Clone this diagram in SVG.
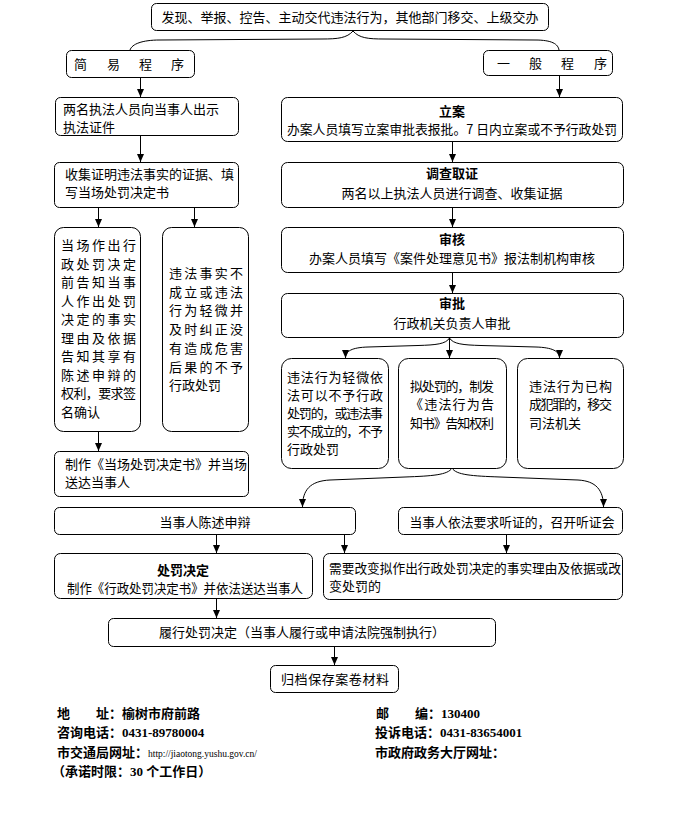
<svg xmlns="http://www.w3.org/2000/svg" width="674" height="813" viewBox="0 0 674 813">
<defs>
<marker id="ah" markerWidth="8" markerHeight="7" refX="8" refY="3.5" orient="auto" markerUnits="userSpaceOnUse">
<path d="M0,0 L8,3.5 L0,7 z" fill="#000"/>
</marker>
<style>
.box{fill:#fff;stroke:#000;stroke-width:1}
.t{font-family:"Noto Sans CJK SC","Noto Sans",sans-serif;font-size:13px;fill:#000}
.c{text-anchor:middle}
.b{font-weight:bold}
.ln{fill:none;stroke:#000;stroke-width:1;marker-end:url(#ah)}
.f{font-family:"Liberation Serif","Noto Sans CJK SC",serif;font-size:13px;font-weight:bold;fill:#000}
.u{font-family:"Liberation Serif",serif;font-size:9.5px;font-weight:normal;fill:#000}
</style>
</defs>
<rect width="674" height="813" fill="#fff"/>

<g id="connectors">
<path class="ln" d="M353,31 C347,38 338,39 322,39 L160,40 C142,40 132,44 130,50" style="marker-end:none"/>
<path class="ln" d="M353,31 C359,38 368,39 384,39 L535,40 C552,40 558,44 559,50" style="marker-end:none"/>
<path class="ln" d="M140.5,78 L140.5,97"/>
<path class="ln" d="M559.5,76 L559.5,97"/>
<path class="ln" d="M140.5,136 L140.5,162"/>
<path class="ln" d="M98.5,208 L98.5,227"/>
<path class="ln" d="M194.5,208 L194.5,227"/>
<path class="ln" d="M98.5,432 L98.5,451"/>
<path class="ln" d="M452.5,142 L452.5,162"/>
<path class="ln" d="M452.5,208 L452.5,227"/>
<path class="ln" d="M452.5,273 L452.5,293"/>
<path class="ln" d="M449.5,338 L449.5,358"/>
<path class="ln" d="M449.5,338 C446,344 436,345 418,345.5 L368,347 C352,347.5 345.5,351 345.5,358"/>
<path class="ln" d="M449.5,338 C453,344 463,345 481,345.5 L536,347 C552,347.5 559.5,351 559.5,358"/>
<path class="ln" d="M452,468 C448,475 432,476 405,477 L330,480 C310,481 302.5,490 302.5,507"/>
<path class="ln" d="M452,468 C456,475 472,476 500,477 L578,480 C596,481 603.5,490 603.5,507"/>
<path class="ln" d="M216.5,534 L216.5,553"/>
<path class="ln" d="M344.5,534 L344.5,553"/>
<path class="ln" d="M506.5,535 L506.5,553"/>
<path class="ln" d="M216.5,599 L216.5,618"/>
<path class="ln" d="M334.5,647 L334.5,665"/>
</g>

<g id="n-start">
<rect class="box" x="151.5" y="3.5" width="397" height="27" rx="5"/>
<text class="t c" x="350" y="22">发现、举报、控告、主动交代违法行为，其他部门移交、上级交办</text>
</g>

<g id="n-simple">
<rect class="box" x="66.5" y="50.5" width="128" height="27" rx="5"/>
<text class="t" x="74 107 139 171" y="69">简易程序</text>
</g>

<g id="n-general">
<rect class="box" x="483.5" y="50.5" width="129" height="25" rx="5"/>
<text class="t" x="497 529 561 594" y="68">一般程序</text>
</g>

<g id="n-s1">
<rect class="box" x="55.5" y="97.5" width="183" height="38" rx="5"/>
<text class="t" x="63" y="114">两名执法人员向当事人出示</text>
<text class="t" x="63" y="132">执法证件</text>
</g>

<g id="n-s2">
<rect class="box" x="54.5" y="162.5" width="184" height="45" rx="5"/>
<text class="t" x="65" y="179">收集证明违法事实的证据、填</text>
<text class="t" x="65" y="197">写当场处罚决定书</text>
</g>

<g id="n-s3a">
<rect class="box" x="54.5" y="227.5" width="86" height="204" rx="9"/>
<text class="t" x="61" y="250" textLength="75" lengthAdjust="spacing">当场作出行</text>
<text class="t" x="61" y="268.5" textLength="75" lengthAdjust="spacing">政处罚决定</text>
<text class="t" x="61" y="287" textLength="75" lengthAdjust="spacing">前告知当事</text>
<text class="t" x="61" y="305.5" textLength="75" lengthAdjust="spacing">人作出处罚</text>
<text class="t" x="61" y="324" textLength="75" lengthAdjust="spacing">决定的事实</text>
<text class="t" x="61" y="342.5" textLength="75" lengthAdjust="spacing">理由及依据</text>
<text class="t" x="61" y="361" textLength="75" lengthAdjust="spacing">告知其享有</text>
<text class="t" x="61" y="379.5" textLength="75" lengthAdjust="spacing">陈述申辩的</text>
<text class="t" x="61" y="398" textLength="75" lengthAdjust="spacing">权利，要求签</text>
<text class="t" x="61" y="416.5">名确认</text>
</g>

<g id="n-s3b">
<rect class="box" x="162.5" y="227.5" width="86" height="204" rx="9"/>
<text class="t" x="169" y="278" textLength="74" lengthAdjust="spacing">违法事实不</text>
<text class="t" x="169" y="296.7" textLength="74" lengthAdjust="spacing">成立或违法</text>
<text class="t" x="169" y="315.4" textLength="74" lengthAdjust="spacing">行为轻微并</text>
<text class="t" x="169" y="334.1" textLength="74" lengthAdjust="spacing">及时纠正没</text>
<text class="t" x="169" y="352.8" textLength="74" lengthAdjust="spacing">有造成危害</text>
<text class="t" x="169" y="371.5" textLength="74" lengthAdjust="spacing">后果的不予</text>
<text class="t" x="169" y="390.2">行政处罚</text>
</g>

<g id="n-s4">
<rect class="box" x="54.5" y="451.5" width="194" height="45" rx="5"/>
<text class="t" x="65" y="469">制作《当场处罚决定书》并当场</text>
<text class="t" x="65" y="487">送达当事人</text>
</g>

<g id="n-lian">
<rect class="box" x="281.5" y="97.5" width="341" height="44" rx="6"/>
<text class="t c b" x="452" y="116">立案</text>
<text class="t" x="287" y="134" textLength="330" lengthAdjust="spacingAndGlyphs">办案人员填写立案审批表报批。7 日内立案或不予行政处罚</text>
</g>

<g id="n-diaocha">
<rect class="box" x="281.5" y="162.5" width="342" height="45" rx="6"/>
<text class="t c b" x="452" y="178">调查取证</text>
<text class="t c" x="452" y="198">两名以上执法人员进行调查、收集证据</text>
</g>

<g id="n-shenhe">
<rect class="box" x="281.5" y="227.5" width="342" height="45" rx="6"/>
<text class="t c b" x="452" y="244">审核</text>
<text class="t c" x="452" y="263">办案人员填写《案件处理意见书》报法制机构审核</text>
</g>

<g id="n-shenpi">
<rect class="box" x="281.5" y="293.5" width="342" height="44" rx="6"/>
<text class="t c b" x="452" y="308">审批</text>
<text class="t c" x="452" y="328">行政机关负责人审批</text>
</g>

<g id="n-r1">
<rect class="box" x="281.5" y="358.5" width="107" height="110" rx="10"/>
<text class="t" x="287" y="382" textLength="96" lengthAdjust="spacing">违法行为轻微依</text>
<text class="t" x="287" y="400" textLength="96" lengthAdjust="spacing">法可以不予行政</text>
<text class="t" x="287" y="418" textLength="96" lengthAdjust="spacing">处罚的，或违法事</text>
<text class="t" x="287" y="436" textLength="96" lengthAdjust="spacing">实不成立的，不予</text>
<text class="t" x="287" y="454">行政处罚</text>
</g>

<g id="n-r2">
<rect class="box" x="398.5" y="358.5" width="108" height="110" rx="10"/>
<text class="t" x="410" y="391" textLength="84" lengthAdjust="spacing">拟处罚的，制发</text>
<text class="t" x="410" y="409" textLength="84" lengthAdjust="spacing">《违法行为告</text>
<text class="t" x="410" y="428" textLength="84" lengthAdjust="spacing">知书》告知权利</text>
</g>

<g id="n-r3">
<rect class="box" x="517.5" y="358.5" width="106" height="110" rx="10"/>
<text class="t" x="529" y="391" textLength="83" lengthAdjust="spacing">违法行为已构</text>
<text class="t" x="529" y="409" textLength="83" lengthAdjust="spacing">成犯罪的，移交</text>
<text class="t" x="529" y="428">司法机关</text>
</g>

<g id="n-chenshu">
<rect class="box" x="54.5" y="507.5" width="301" height="27" rx="5"/>
<text class="t c" x="205" y="527">当事人陈述申辩</text>
</g>

<g id="n-tingzheng">
<rect class="box" x="398.5" y="507.5" width="224" height="27" rx="5"/>
<text class="t c" x="512" y="527" textLength="205" lengthAdjust="spacingAndGlyphs">当事人依法要求听证的，召开听证会</text>
</g>

<g id="n-jueding">
<rect class="box" x="54.5" y="553.5" width="258" height="45" rx="6"/>
<text class="t c b" x="183" y="575">处罚决定</text>
<text class="t" x="67" y="593" textLength="236" lengthAdjust="spacingAndGlyphs">制作《行政处罚决定书》并依法送达当事人</text>
</g>

<g id="n-gaibian">
<rect class="box" x="323.5" y="553.5" width="299" height="46" rx="6"/>
<text class="t" x="329" y="573" textLength="292" lengthAdjust="spacingAndGlyphs">需要改变拟作出行政处罚决定的事实理由及依据或改</text>
<text class="t" x="329" y="591">变处罚的</text>
</g>

<g id="n-lvxing">
<rect class="box" x="108.5" y="618.5" width="387" height="28" rx="5"/>
<text class="t c" x="302" y="637">履行处罚决定（当事人履行或申请法院强制执行）</text>
</g>

<g id="n-guidang">
<rect class="box" x="270.5" y="665.5" width="128" height="27" rx="5"/>
<text class="t" x="281" y="684" textLength="108" lengthAdjust="spacing">归档保存案卷材料</text>
</g>

<g id="footer">
<text class="f" x="57" y="718">地　　址：榆树市府前路</text>
<text class="f" x="57" y="737">咨询电话：0431-89780004</text>
<text class="f" x="57" y="757">市交通局网址：<tspan class="u">http://jiaotong.yushu.gov.cn/</tspan></text>
<text class="f" x="52" y="776">（承诺时限：30 个工作日）</text>
<text class="f" x="376" y="718">邮　　编：130400</text>
<text class="f" x="375" y="737">投诉电话：0431-83654001</text>
<text class="f" x="375" y="757">市政府政务大厅网址：</text>
</g>
</svg>
